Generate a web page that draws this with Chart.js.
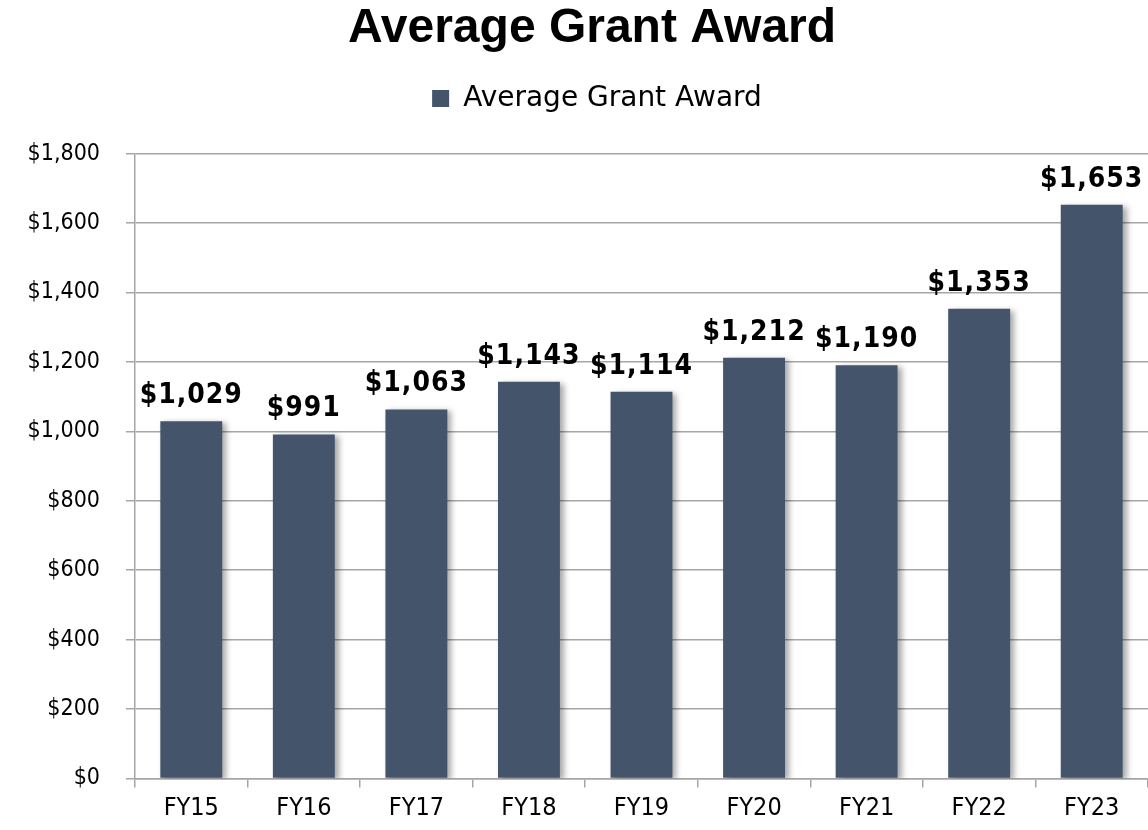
<!DOCTYPE html>
<html>
<head>
<meta charset="utf-8">
<script src="https://cdn.jsdelivr.net/npm/chart.js@4/dist/chart.umd.min.js"></script>
<style>
    html, body { margin: 0; padding: 0; background: #ffffff; }
    #wrap { width: 1148px; height: 830px; }
</style>
</head>
<body>
<div id="wrap"><canvas id="grantChart" width="1148" height="830"></canvas></div>
<script>
// Chart data
const categories = ['FY15', 'FY16', 'FY17', 'FY18', 'FY19', 'FY20', 'FY21', 'FY22', 'FY23'];
const awardValues = [1029, 991, 1063, 1143, 1114, 1212, 1190, 1353, 1653];
const seriesName = 'Average Grant Award';
const chartTitle = 'Average Grant Award';

const barColor = '#44546a';

function formatMoney(v) {
    return '$' + v.toLocaleString('en-US');
}

// Soft shadow behind the bars
const barShadow = {
    id: 'barShadow',
    beforeDatasetDraw(chart) {
        const ctx = chart.ctx;
        ctx.save();
        ctx.shadowColor = 'rgba(0, 0, 0, 0.35)';
        ctx.shadowBlur = 6;
        ctx.shadowOffsetX = 4;
        ctx.shadowOffsetY = 2;
    },
    afterDatasetDraw(chart) {
        chart.ctx.restore();
    }
};

// Value labels above each bar
const valueLabels = {
    id: 'valueLabels',
    afterDatasetsDraw(chart) {
        const ctx = chart.ctx;
        const meta = chart.getDatasetMeta(0);
        ctx.save();
        ctx.font = 'bold 28px "DejaVu Sans Condensed"';
        ctx.letterSpacing = '1px';
        ctx.fillStyle = '#000000';
        ctx.textAlign = 'center';
        ctx.textBaseline = 'alphabetic';
        meta.data.forEach((bar, i) => {
            ctx.fillText(formatMoney(awardValues[i]), bar.x, bar.y - 18);
        });
        ctx.restore();
    }
};

// Legend gets extra room below; title and legend sit a bit right of centre
const legendSpacing = {
    id: 'legendSpacing',
    beforeInit(chart) {
        const origFit = chart.legend.fit;
        chart.legend.fit = function() {
            origFit.bind(chart.legend)();
            this.height += 31;
        };
    },
    afterLayout(chart) {
        chart.legend.left += 23;
        chart.legend.right += 23;
        chart.titleBlock.left += 18;
        chart.titleBlock.right += 18;
    }
};

new Chart(document.getElementById('grantChart'), {
    type: 'bar',
    data: {
        labels: categories,
        datasets: [{
            label: seriesName,
            data: awardValues,
            backgroundColor: barColor,
            borderWidth: 0,
            barPercentage: 0.55,
            categoryPercentage: 1.0
        }]
    },
    options: {
        responsive: false,
        animation: false,
        layout: {
            padding: { left: 0, right: 0, top: 0, bottom: 0 }
        },
        scales: {
            y: {
                min: 0,
                max: 1800,
                ticks: {
                    stepSize: 200,
                    color: '#000000',
                    font: { family: 'DejaVu Sans Condensed', size: 23 },
                    padding: 26,
                    callback: v => formatMoney(v)
                },
                grid: {
                    color: '#a6a6a6',
                    lineWidth: 1.5,
                    tickLength: 9
                },
                border: { color: '#a6a6a6', width: 1.5 },
                afterFit(scale) { scale.width = 135; }
            },
            x: {
                ticks: {
                    color: '#000000',
                    font: { family: 'DejaVu Sans Condensed', size: 25, lineHeight: 0.9 },
                    padding: 10
                },
                grid: {
                    offset: true,
                    drawOnChartArea: false,
                    color: '#a6a6a6',
                    lineWidth: 1.5,
                    tickLength: 9
                },
                border: { color: '#a6a6a6', width: 1.5 }
            }
        },
        plugins: {
            title: {
                display: true,
                text: chartTitle,
                color: '#000000',
                font: { family: 'Liberation Sans', size: 48, weight: 'bold' },
                padding: { top: 0, bottom: 17 }
            },
            legend: {
                display: true,
                position: 'top',
                labels: {
                    color: '#000000',
                    font: { family: 'DejaVu Sans', size: 28 },
                    boxWidth: 17,
                    boxHeight: 17,
                    padding: 10
                }
            },
            tooltip: { enabled: false }
        }
    },
    plugins: [barShadow, valueLabels, legendSpacing]
});
</script>
</body>
</html>
